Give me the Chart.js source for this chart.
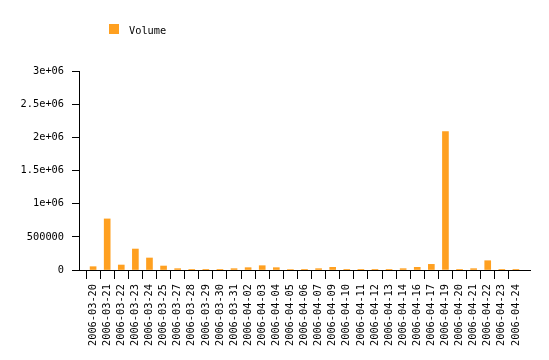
<!DOCTYPE html>
<html>
<head>
<meta charset="utf-8">
<script src="https://cdn.jsdelivr.net/npm/chart.js@4/dist/chart.umd.min.js"></script>
<style>
  html, body { margin: 0; padding: 0; background: #fff; }
  canvas { display: block; }
</style>
</head>
<body>
<canvas id="chart" width="549" height="360"></canvas>
<script>
// dates on the x axis
const categories = [
    "2006-03-20", "2006-03-21", "2006-03-22", "2006-03-23", "2006-03-24", "2006-03-25",
    "2006-03-27", "2006-03-28", "2006-03-29", "2006-03-30", "2006-03-31",
    "2006-04-02", "2006-04-03", "2006-04-04", "2006-04-05", "2006-04-06", "2006-04-07",
    "2006-04-09", "2006-04-10", "2006-04-11", "2006-04-12", "2006-04-13", "2006-04-14",
    "2006-04-16", "2006-04-17", "2006-04-19", "2006-04-20", "2006-04-21", "2006-04-22",
    "2006-04-23", "2006-04-24"
];
const volume = [
    50000, 770000, 75000, 316000, 181000, 60000,
    20000, 10000, 10000, 10000, 20000,
    35000, 65000, 35000, 8000, 10000, 20000,
    40000, 10000, 10000, 10000, 10000, 20000,
    40000, 85000, 2087000, 10000, 20000, 140000,
    10000, 10000
];
const yTicks = [0, 500000, 1000000, 1500000, 2000000, 2500000, 3000000];

const barColor = "rgb(255,160,32)";
const font = { family: "DejaVu Sans Mono", size: 10.3 };

// gnuplot style number labels
const fmt = v => {
    if (v === 0) return "0";
    if (v < 1e6) return String(v);
    return (v / 1e6) + "e+06";
};

// legend drawn by hand so it can sit where the original has it
const legendPlugin = {
    id: "topLegend",
    afterDraw(chart) {
        const ctx = chart.ctx;
        const ds = chart.data.datasets[0];
        ctx.save();
        ctx.fillStyle = ds.backgroundColor;
        ctx.fillRect(109, 24, 10, 10);
        ctx.fillStyle = "#000";
        ctx.font = "10.3px 'DejaVu Sans Mono'";
        ctx.textBaseline = "middle";
        ctx.fillText(ds.label, 129, 31);
        ctx.restore();
    }
};

new Chart(document.getElementById("chart"), {
    type: "bar",
    data: {
        datasets: [{
            label: "Volume",
            data: categories.map((c, i) => ({ x: i + 1, y: volume[i] })),
            backgroundColor: barColor,
            borderWidth: 0,
            barThickness: 6
        }]
    },
    options: {
        responsive: false,
        animation: false,
        layout: { padding: { top: 71, right: 19, left: 0, bottom: 0 } },
        plugins: { legend: { display: false }, tooltip: { enabled: false } },
        scales: {
            x: {
                type: "linear",
                min: 0,
                max: 32,
                offset: false,
                afterFit: s => { s.height = 90; },
                border: { display: true, color: "#000", width: 1 },
                grid: {
                    drawOnChartArea: false,
                    tickLength: 9,
                    color: c => (c.tick && c.tick.value >= 1 && c.tick.value <= categories.length) ? "#000" : "rgba(0,0,0,0)"
                },
                ticks: {
                    stepSize: 1,
                    maxTicksLimit: 100,
                    autoSkip: false,
                    minRotation: 90,
                    maxRotation: 90,
                    padding: 5,
                    color: "#000",
                    font: font,
                    callback: v => categories[v - 1] || ""
                }
            },
            y: {
                min: 0,
                max: 3000000,
                afterFit: s => { s.width = 79; },
                afterBuildTicks: s => { s.ticks = yTicks.map(v => ({ value: v })); },
                border: { display: true, color: "#000", width: 1 },
                grid: { drawOnChartArea: false, tickLength: 7, color: "#000" },
                ticks: {
                    padding: 8,
                    color: "#000",
                    font: font,
                    callback: v => fmt(v)
                }
            }
        }
    },
    plugins: [legendPlugin]
});
</script>
</body>
</html>
